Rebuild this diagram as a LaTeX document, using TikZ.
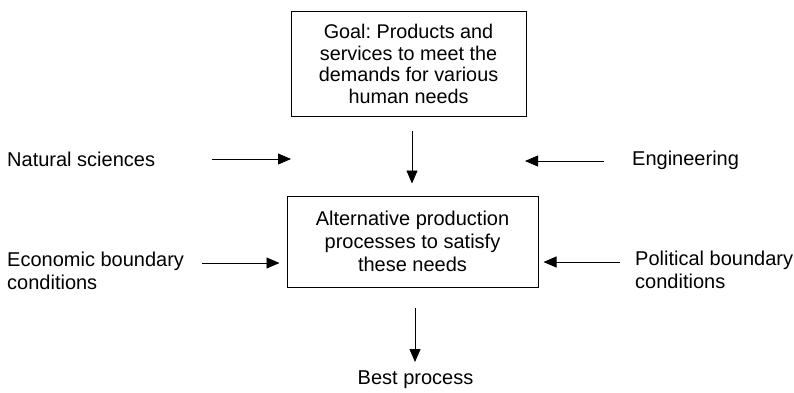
\documentclass[tikz,border=0pt]{standalone}
\usepackage{fontspec}
\setmainfont{Liberation Sans}
\usetikzlibrary{arrows.meta}
\frenchspacing
\begin{document}
\begin{tikzpicture}[x=1pt,y=-1pt,
  every node/.style={font=\fontsize{20}{23}\selectfont},
  box/.style={draw,line width=1pt,align=center,inner sep=0pt},
  lbl/.style={align=left,inner sep=0pt,anchor=west},
  flow/.style={line width=0.9pt,-{Triangle[length=13pt,width=11pt]}}]
\useasboundingbox (0,0) rectangle (794,392);
% central boxes
\node[box,minimum width=235pt,minimum height=105pt,
  font=\fontsize{19.8}{21.7}\selectfont] (goal) at (408.5,64)
  {Goal: Products and\\services to meet the\\demands for various\\human needs};
\node[box,minimum width=251pt,minimum height=91pt,
  font=\fontsize{20}{23.3}\selectfont] (alt) at (412.5,241.5)
  {Alternative production\\processes to satisfy\\these needs};
% side labels
\node[lbl] (nat) at (7,159) {Natural sciences};
\node[lbl] (eco) at (7,271) {Economic boundary\\conditions};
\node[lbl] (eng) at (632,160) {Engineering};
\node[lbl] (pol) at (635,270) {Political boundary\\conditions};
\node[inner sep=0pt] (best) at (415.5,380) {Best process};
% free arrow ends
\coordinate (natA) at (212,159);
\coordinate (natB) at (291,159);
\coordinate (engA) at (604,161);
\coordinate (engB) at (525,161);
\coordinate (ecoA) at (202,263);
\coordinate (polA) at (620,262);
\coordinate (bestA) at (415,308);
\coordinate (bestB) at (415,362);
% connectors
\draw[flow] (natA) -- (natB);
\draw[flow] (engA) -- (engB);
\draw[flow] ([yshift=-14pt]goal.south -| 412,0) -- ([yshift=12pt]alt.north -| 412,0);
\draw[flow] (ecoA) -- ([xshift=-7pt]ecoA -| alt.west);
\draw[flow] (polA) -- ([xshift=5pt]polA -| alt.east);
\draw[flow] (bestA) -- (bestB);
\end{tikzpicture}
\end{document}
